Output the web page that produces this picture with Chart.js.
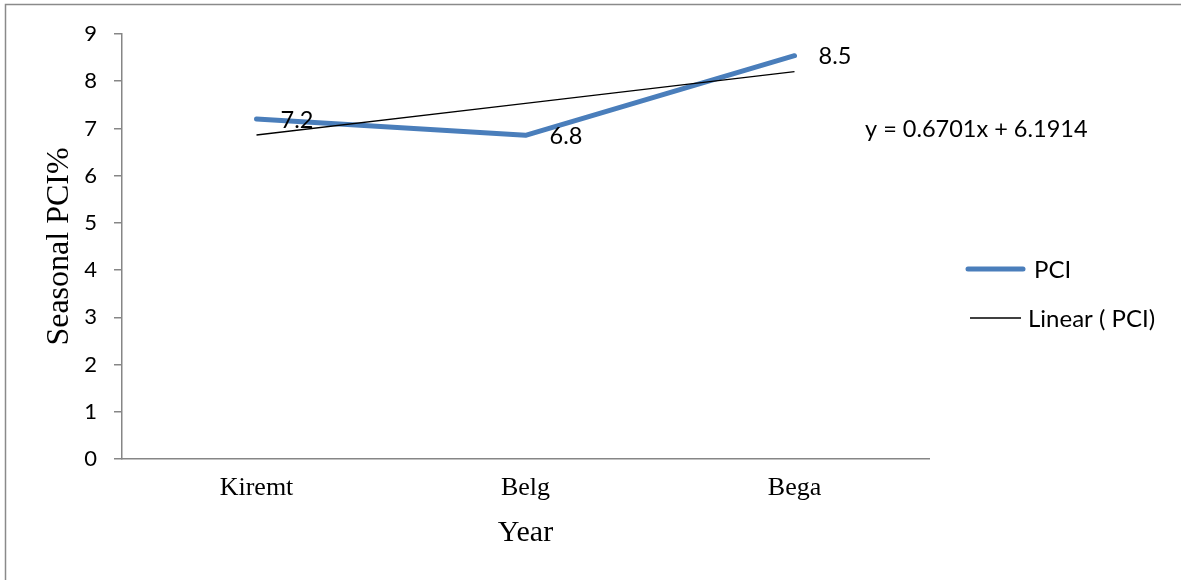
<!DOCTYPE html>
<html>
<head>
<meta charset="utf-8">
<script src="https://cdn.jsdelivr.net/npm/chart.js@4/dist/chart.umd.min.js"></script>
<style>
  html, body { margin: 0; padding: 0; background: #ffffff; }
  #wrap { width: 1181px; height: 580px; }
</style>
</head>
<body>
<div id="wrap"><canvas id="c" width="1181" height="580"></canvas></div>
<script>
// ---- data ----
const categories = ["Kiremt", "Belg", "Bega"];
const pciValues = [7.2, 6.855, 8.54];
const pciLabels = ["7.2", "6.8", "8.5"];
const trendValues = [6.8615, 7.5316, 8.2017];
const trendEquation = "y = 0.6701x + 6.1914";
const yTicks = [0, 1, 2, 3, 4, 5, 6, 7, 8, 9];
const seriesNames = ["PCI", "Linear ( PCI)"];
const axisTitles = { x: "Year", y: "Seasonal PCI%" };

const BLUE = "#4a7ebb";
const AXIS = "#868686";
const SANS = "Lato, 'Open Sans', sans-serif";
const SERIF = "'Liberation Serif', 'DejaVu Serif', serif";

const decorPlugin = {
  id: "decor",
  beforeDraw(chart) {
    const ctx = chart.ctx;
    ctx.save();
    ctx.fillStyle = "#ffffff";
    ctx.fillRect(0, 0, chart.width, chart.height);
    ctx.strokeStyle = "#8a8a8a";
    ctx.lineWidth = 1.5;
    ctx.beginPath();
    ctx.moveTo(5.5, chart.height + 2);
    ctx.lineTo(5.5, 4.5);
    ctx.lineTo(chart.width + 2, 4.5);
    ctx.stroke();
    ctx.restore();
  },
  afterDatasetsDraw(chart) {
    const ctx = chart.ctx;
    const area = chart.chartArea;
    ctx.save();
    // data labels for PCI
    const meta = chart.getDatasetMeta(1);
    ctx.font = "23.5px " + SANS;
    ctx.fillStyle = "#000000";
    ctx.textAlign = "left";
    ctx.textBaseline = "middle";
    meta.data.forEach((pt, i) => {
      ctx.fillText(pciLabels[i], pt.x + 24, pt.y + 1);
    });
    // trendline equation
    ctx.fillText(trendEquation, area.right - 64, 129);

    // legend
    const lx1 = area.right + 39, lx2 = area.right + 94;
    const ly1 = 269, ly2 = 318;
    ctx.lineCap = "round";
    ctx.strokeStyle = BLUE;
    ctx.lineWidth = 5;
    ctx.beginPath(); ctx.moveTo(lx1, ly1); ctx.lineTo(lx2, ly1); ctx.stroke();
    ctx.lineCap = "butt";
    ctx.strokeStyle = "#000000";
    ctx.lineWidth = 1.3;
    ctx.beginPath(); ctx.moveTo(lx1 + 2, ly2); ctx.lineTo(lx2 - 2, ly2); ctx.stroke();
    ctx.font = "24px " + SANS;
    ctx.fillText(seriesNames[0], area.right + 105, ly1 + 1);
    ctx.fillText(seriesNames[1], area.right + 99, ly2 + 1);
    ctx.restore();
  }
};

new Chart(document.getElementById("c"), {
  type: "line",
  data: {
    labels: categories,
    datasets: [
      {
        label: seriesNames[1],
        data: trendValues,
        borderColor: "#000000",
        borderWidth: 1.3,
        pointRadius: 0,
        tension: 0,
        fill: false,
        order: 0
      },
      {
        label: seriesNames[0],
        data: pciValues,
        borderColor: BLUE,
        backgroundColor: BLUE,
        borderWidth: 5,
        borderCapStyle: "round",
        borderJoinStyle: "round",
        pointRadius: 0,
        tension: 0,
        fill: false,
        order: 1
      }
    ]
  },
  options: {
    responsive: false,
    animation: false,
    events: [],
    layout: { padding: { top: 34, right: 252, bottom: 0, left: 0 } },
    plugins: {
      legend: { display: false },
      tooltip: { enabled: false },
      title: { display: false }
    },
    scales: {
      x: {
        type: "category",
        offset: true,
        grid: { display: false, drawTicks: false },
        border: { display: true, color: AXIS, width: 1.5 },
        ticks: {
          padding: 14,
          color: "#000000",
          font: { family: SERIF, size: 26 },
          maxRotation: 0,
          autoSkip: false
        },
        title: {
          display: true,
          text: axisTitles.x,
          color: "#000000",
          font: { family: SERIF, size: 30 },
          padding: { top: 0, bottom: 29 }
        },
        afterFit(scale) { scale.height = 121; }
      },
      y: {
        type: "linear",
        min: 0,
        max: 9,
        afterBuildTicks(scale) { scale.ticks = yTicks.map(v => ({ value: v })); },
        grid: {
          display: true,
          drawOnChartArea: false,
          drawTicks: true,
          tickLength: 8,
          color: AXIS,
          lineWidth: 1.5
        },
        border: { display: true, color: AXIS, width: 1.5 },
        ticks: {
          padding: 17,
          color: "#000000",
          font: { family: SANS, size: 22 }
        },
        title: {
          display: true,
          text: axisTitles.y,
          color: "#000000",
          font: { family: SERIF, size: 32 },
          padding: { top: 40, bottom: 0 }
        },
        afterFit(scale) { scale.width = 122; }
      }
    }
  },
  plugins: [decorPlugin]
});
</script>
</body>
</html>
